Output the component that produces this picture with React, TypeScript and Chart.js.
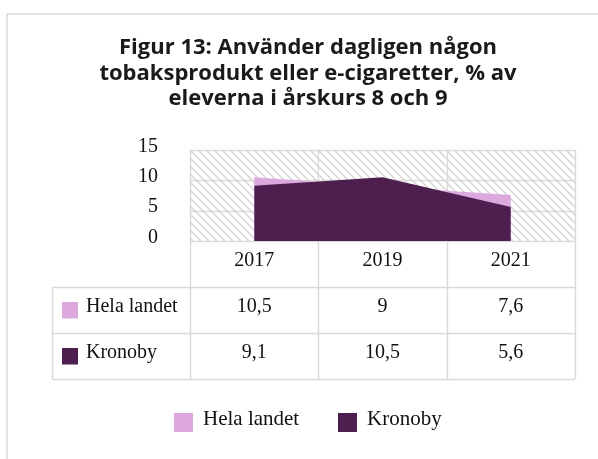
import React, { useEffect, useRef } from "react";
import { Chart, registerables } from "chart.js";

Chart.register(...registerables);

const titleLines = [
  "Figur 13: Använder dagligen någon",
  "tobaksprodukt eller e-cigaretter, % av",
  "eleverna i årskurs 8 och 9",
];
const categories = ["2017", "2019", "2021"];
const seriesNames = ["Hela landet", "Kronoby"];
const helaLandet = [10.5, 9, 7.6];
const kronoby = [9.1, 10.5, 5.6];
const tableHela = ["10,5", "9", "7,6"];
const tableKronoby = ["9,1", "10,5", "5,6"];
const yTicks = [0, 5, 10, 15];
const colors = ["#DCA8DE", "#4E1E4F"];

const GRID = "#d9d9d9";
const SERIF = "'Liberation Serif', 'Times New Roman', serif";
const SANS = "'Open Sans', 'Noto Sans', sans-serif";

function makeHatch(ctx: CanvasRenderingContext2D) {
  const c = document.createElement("canvas");
  c.width = 8;
  c.height = 8;
  const g = c.getContext("2d")!;
  g.fillStyle = "#ffffff";
  g.fillRect(0, 0, 8, 8);
  g.strokeStyle = "#d4d4d4";
  g.lineWidth = 1.4;
  g.beginPath();
  g.moveTo(-2, -2);
  g.lineTo(10, 10);
  g.moveTo(-10, -2);
  g.lineTo(2, 10);
  g.moveTo(6, -2);
  g.lineTo(18, 10);
  g.stroke();
  return ctx.createPattern(c, "repeat")!;
}

function columnBounds(chart: any) {
  const { chartArea: a, scales } = chart;
  const x = scales.x;
  const centers = categories.map((_, i) => x.getPixelForValue(i));
  const bounds = [a.left];
  for (let i = 0; i < centers.length - 1; i++) bounds.push((centers[i] + centers[i + 1]) / 2);
  bounds.push(a.right);
  return { centers, bounds };
}

const customPlugin = {
  id: "excelLike",
  beforeDatasetsDraw(chart: any) {
    const { ctx, chartArea: a, scales } = chart;
    const y = scales.y;
    const { bounds } = columnBounds(chart);
    ctx.save();
    ctx.fillStyle = makeHatch(ctx);
    ctx.fillRect(a.left, a.top, a.right - a.left, a.bottom - a.top);
    ctx.strokeStyle = GRID;
    ctx.lineWidth = 1.4;
    ctx.beginPath();
    for (const v of yTicks) {
      const py = Math.round(y.getPixelForValue(v)) + 0.5;
      ctx.moveTo(a.left, py);
      ctx.lineTo(a.right, py);
    }
    for (const bx of bounds) {
      const px = Math.round(bx) + 0.5;
      ctx.moveTo(px, a.top);
      ctx.lineTo(px, a.bottom);
    }
    ctx.stroke();
    ctx.restore();
  },
  afterDraw(chart: any) {
    const { ctx, chartArea: a, scales } = chart;
    const y = scales.y;
    ctx.save();

    // outer border
    ctx.strokeStyle = GRID;
    ctx.lineWidth = 1.5;
    ctx.beginPath();
    ctx.moveTo(7, 470);
    ctx.lineTo(7, 14);
    ctx.lineTo(610, 14);
    ctx.stroke();

    // title
    ctx.fillStyle = "#1a1a1a";
    ctx.font = `bold 22px ${SANS}`;
    ctx.textAlign = "center";
    ctx.textBaseline = "alphabetic";
    titleLines.forEach((t, i) => ctx.fillText(t, 308, 54 + i * 25.5));

    // y labels
    ctx.font = `20px ${SERIF}`;
    ctx.textAlign = "right";
    ctx.fillStyle = "#111";
    for (const v of yTicks) {
      ctx.fillText(String(v), 158, y.getPixelForValue(v) + 1.5);
    }

    // table geometry
    const { centers, bounds } = columnBounds(chart);
    const tableLeft = 52;
    const rowY = [a.bottom, a.bottom + 46, a.bottom + 92, a.bottom + 138];

    ctx.strokeStyle = GRID;
    ctx.lineWidth = 1.4;
    ctx.beginPath();
    for (const bx of bounds) {
      const px = Math.round(bx) + 0.5;
      ctx.moveTo(px, a.bottom);
      ctx.lineTo(px, rowY[3]);
    }
    ctx.moveTo(tableLeft + 0.5, rowY[1]);
    ctx.lineTo(tableLeft + 0.5, rowY[3]);
    for (let r = 1; r < rowY.length; r++) {
      const py = Math.round(rowY[r]) + 0.5;
      ctx.moveTo(tableLeft, py);
      ctx.lineTo(a.right, py);
    }
    ctx.stroke();

    // header years
    ctx.fillStyle = "#111";
    ctx.textAlign = "center";
    ctx.font = `20px ${SERIF}`;
    categories.forEach((c, i) => ctx.fillText(c, centers[i], rowY[0] + 25));

    // rows
    const rows = [tableHela, tableKronoby];
    rows.forEach((vals, r) => {
      const base = rowY[r + 1] + 24.5;
      ctx.fillStyle = colors[r];
      ctx.fillRect(62, rowY[r + 1] + 15, 16, 16.5);
      ctx.fillStyle = "#111";
      ctx.textAlign = "left";
      ctx.fillText(seriesNames[r], 86, base);
      ctx.textAlign = "center";
      vals.forEach((v, i) => ctx.fillText(v, centers[i], base));
    });

    // legend
    ctx.font = `21px ${SERIF}`;
    ctx.textAlign = "left";
    const legendX = [174, 338];
    seriesNames.forEach((n, i) => {
      ctx.fillStyle = colors[i];
      ctx.fillRect(legendX[i], 413, 19, 19);
      ctx.fillStyle = "#111";
      ctx.fillText(n, legendX[i] + 29, 424.5);
    });
    ctx.restore();
  },
};

export default function App() {
  const ref = useRef<HTMLCanvasElement | null>(null);
  useEffect(() => {
    if (!ref.current) return;
    const chart = new Chart(ref.current, {
      type: "line",
      data: {
        labels: categories,
        datasets: [
          {
            label: seriesNames[0],
            data: helaLandet,
            backgroundColor: colors[0],
            borderColor: colors[0],
            borderWidth: 0,
            pointRadius: 0,
            fill: "origin",
            tension: 0,
            order: 1,
          },
          {
            label: seriesNames[1],
            data: kronoby,
            backgroundColor: colors[1],
            borderColor: colors[1],
            borderWidth: 0,
            pointRadius: 0,
            fill: "origin",
            tension: 0,
            order: 0,
          },
        ],
      },
      options: {
        responsive: false,
        animation: false,
        devicePixelRatio: 1,
        layout: { padding: { left: 190, top: 150, right: 23, bottom: 218 } },
        plugins: { legend: { display: false }, tooltip: { enabled: false }, title: { display: false } },
        scales: {
          x: { type: "category", offset: true, display: false },
          y: { min: 0, max: 15, display: false },
        },
      },
      plugins: [customPlugin],
    });
    return () => chart.destroy();
  }, []);
  return (
    <canvas
      ref={ref}
      width={598}
      height={459}
      style={{ position: "absolute", left: 0, top: 0, width: 598, height: 459 }}
    />
  );
}
